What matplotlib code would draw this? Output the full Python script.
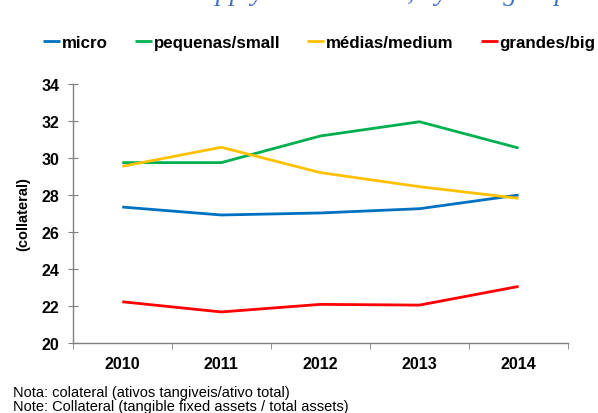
import numpy as np
import matplotlib
matplotlib.use("Agg")
import matplotlib.pyplot as plt

plt.rcParams['font.family'] = ['Liberation Sans', 'DejaVu Sans']

# dados
anos = ['2010', '2011', '2012', '2013', '2014']
micro = [27.35, 26.92, 27.03, 27.26, 28.0]
pequenas = [29.75, 29.75, 31.19, 31.96, 30.54]
medias = [29.55, 30.58, 29.21, 28.45, 27.82]
grandes = [22.23, 21.68, 22.09, 22.05, 23.06]
series_labels = ['micro', 'pequenas/small', 'médias/medium', 'grandes/big']
cores = ['#0070C0', '#00B050', '#FFC000', '#FF0000']
y_ticks = [20, 22, 24, 26, 28, 30, 32, 34]

fig = plt.figure(figsize=(5.98, 4.14), dpi=100)
ax = fig.add_axes([0.1216, 0.169, 0.8284, 0.6257])

x = np.arange(len(anos))
for vals, lab, c in zip([micro, pequenas, medias, grandes], series_labels, cores):
    ax.plot(x, vals, color=c, lw=2.0, label=lab, solid_capstyle='butt')

ax.set_xlim(-0.5, len(anos) - 0.5)
ax.set_ylim(20, 34)
ax.set_yticks(y_ticks)
ax.set_yticklabels([str(v) for v in y_ticks], fontsize=11.5, fontweight='bold')
ax.set_xticks(x)
ax.set_xticklabels(anos, fontsize=11.5, fontweight='bold')
ax.set_xticks(np.arange(-0.5, len(anos)), minor=True)
ax.tick_params(axis='x', which='major', length=0, pad=9)
ax.tick_params(axis='x', which='minor', length=4, direction='out', color='#808080')
ax.tick_params(axis='y', length=7, direction='inout', color='#808080', pad=6)

for s in ['top', 'right']:
    ax.spines[s].set_visible(False)
for s in ['left', 'bottom']:
    ax.spines[s].set_color('#808080')
    ax.spines[s].set_linewidth(1.0)

ax.set_ylabel('(collateral)', fontsize=10.5, fontweight='bold', labelpad=8)

leg = fig.legend(loc='center left', bbox_to_anchor=(0.0725, 0.896), ncol=4,
                 frameon=False, handlelength=1.0, handletextpad=0.1,
                 columnspacing=1.6, borderaxespad=0, borderpad=0,
                 prop={'size': 12.2, 'weight': 'bold'})

# titulo cortado no topo (só se vê a parte de baixo)
fig.text(0.315, 1.0, 'Supply in collateral, by size group', ha='left',
         va='baseline', fontsize=20, color='#4472C4', style='italic',
         family='Liberation Serif')

fig.text(0.022, 0.042, 'Nota: colateral (ativos tangiveis/ativo total)', fontsize=10.5)
fig.text(0.022, 0.007, 'Note: Collateral (tangible fixed assets / total assets)', fontsize=10.5)

fig.savefig('out.png', dpi=100)
